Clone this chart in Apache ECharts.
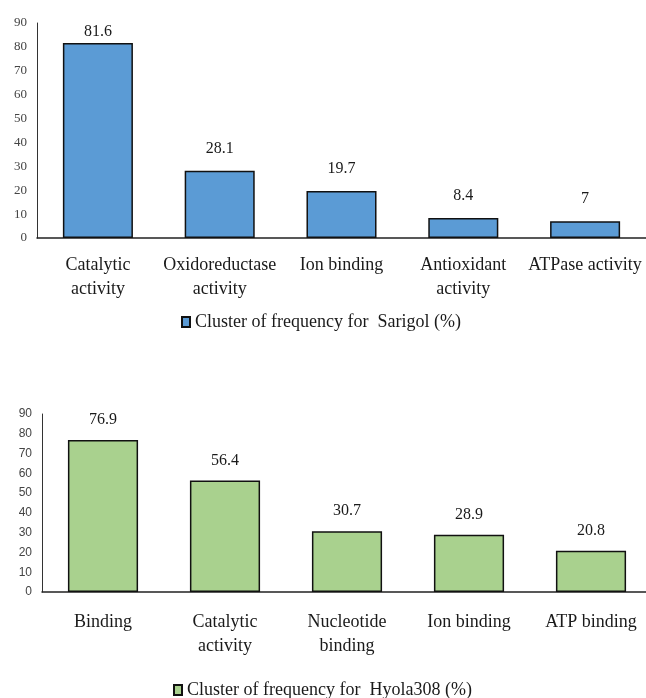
<!DOCTYPE html>
<html>
<head>
<meta charset="utf-8">
<script src="https://cdn.jsdelivr.net/npm/echarts@6/dist/echarts.min.js"></script>
<style>
html,body{margin:0;padding:0;background:#fff;}
#chart{width:646px;height:698px;}
</style>
</head>
<body>
<div id="chart"></div>
<script>
const topCategories = ['Catalytic\nactivity', 'Oxidoreductase\nactivity', 'Ion binding', 'Antioxidant\nactivity', 'ATPase activity'];
const topValues = [81.6, 28.1, 19.7, 8.4, 7];
const topSeriesName = 'Cluster of frequency for  Sarigol (%)';

const bottomCategories = ['Binding', 'Catalytic\nactivity', 'Nucleotide\nbinding', 'Ion binding', 'ATP binding'];
const bottomValues = [76.9, 56.4, 30.7, 28.9, 20.8];
const bottomSeriesName = 'Cluster of frequency for  Hyola308 (%)';

const yTicks = [0, 10, 20, 30, 40, 50, 60, 70, 80, 90];

const serif = 'Liberation Serif';
const chart = echarts.init(document.getElementById('chart'));

function yAxis(gridIndex, fontFamily, fontSize) {
  return {
    type: 'value', gridIndex: gridIndex,
    min: yTicks[0], max: yTicks[yTicks.length - 1], interval: yTicks[1] - yTicks[0],
    axisLine: {show: true, lineStyle: {color: '#333', width: 1}},
    axisTick: {show: false},
    splitLine: {show: false},
    axisLabel: {color: '#444', fontFamily: fontFamily, fontSize: fontSize, margin: 10}
  };
}
function xAxis(gridIndex, cats, margin) {
  return {
    type: 'category', gridIndex: gridIndex, data: cats,
    axisLine: {show: true, lineStyle: {color: '#222', width: 1.5}},
    axisTick: {show: false},
    axisLabel: {interval: 0, color: '#1a1a1a', fontFamily: serif, fontSize: 18, lineHeight: 24, margin: margin}
  };
}

const topData = topValues.map((v, i) => i === 0 ? {value: v, label: {distance: 3}} : v);

chart.setOption({
  animation: false,
  backgroundColor: '#fff',
  grid: [
    {left: 37, top: 23, height: 215, width: 609, outerBoundsMode: 'none', containLabel: false},
    {left: 42, top: 414, height: 178, width: 610, outerBoundsMode: 'none', containLabel: false}
  ],
  xAxis: [xAxis(0, topCategories, 15), xAxis(1, bottomCategories, 18)],
  yAxis: [yAxis(0, serif, 13), yAxis(1, 'Liberation Sans', 12)],
  legend: [
    {data: [topSeriesName], left: 176, top: 308, icon: 'rect', itemWidth: 8, itemHeight: 10, itemGap: 3,
     textStyle: {fontFamily: serif, fontSize: 18, color: '#1a1a1a'}},
    {data: [bottomSeriesName], left: 168, top: 676, icon: 'rect', itemWidth: 8, itemHeight: 10, itemGap: 3,
     textStyle: {fontFamily: serif, fontSize: 18, color: '#1a1a1a'}}
  ],
  series: [
    {
      name: topSeriesName, type: 'bar', xAxisIndex: 0, yAxisIndex: 0,
      data: topData, barWidth: '57.5%',
      itemStyle: {color: '#5b9bd5', borderColor: '#111', borderWidth: 1.5},
      label: {show: true, position: 'top', distance: 14, fontFamily: serif, fontSize: 16, color: '#1a1a1a'}
    },
    {
      name: bottomSeriesName, type: 'bar', xAxisIndex: 1, yAxisIndex: 1,
      data: bottomValues, barWidth: '57.5%',
      itemStyle: {color: '#a9d18e', borderColor: '#111', borderWidth: 1.5},
      label: {show: true, position: 'top', distance: 12, fontFamily: serif, fontSize: 16, color: '#1a1a1a'}
    }
  ]
});
</script>
</body>
</html>
